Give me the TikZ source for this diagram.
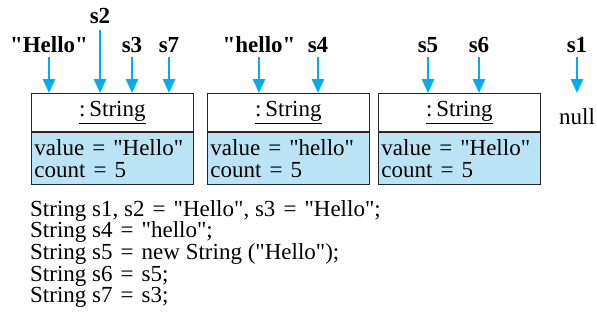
\documentclass[tikz,border=0pt]{standalone}
\usepackage{fontspec}
\setmainfont{Liberation Serif}[Ligatures=TeXOff]
\usepackage{xcolor}
\usetikzlibrary{arrows.meta, positioning}

\definecolor{refblue}{RGB}{0,174,239}
\definecolor{valblue}{RGB}{186,228,246}

\newcommand{\eqsign}{\hspace{0.35em}=\hspace{0.35em}}

\tikzset{
  objhead/.style={draw=black!85, thick, fill=white, minimum width=162pt, minimum height=38pt, inner sep=0pt, font=\fontsize{23}{22}\selectfont},
  objbody/.style={draw=black!85, thick, fill=valblue, minimum width=162pt, minimum height=52pt, inner sep=3pt, text width=156pt, align=left, font=\fontsize{23}{22}\selectfont},
  reflabel/.style={font=\bfseries\fontsize{23}{22}\selectfont, inner sep=1pt, text height=16pt, text depth=0pt},
  refarrow/.style={draw=refblue, line width=2.6pt, -{Triangle[width=12pt, length=14pt]}},
}

\begin{document}
\begin{tikzpicture}[x=1pt, y=-1pt]
    \useasboundingbox (0,0) rectangle (597,322);

    % String objects
    \node[objhead, anchor=north west] (head1) at (31,93) {\underline{:\,String}};
    \node[objbody, anchor=north] (body1) at (head1.south) {value\eqsign"Hello"\\count\eqsign5};
    \node[objhead, anchor=north west] (head2) at (207,93) {\underline{:\,String}};
    \node[objbody, anchor=north] (body2) at (head2.south) {value\eqsign"hello"\\count\eqsign5};
    \node[objhead, anchor=north west] (head3) at (378,93) {\underline{:\,String}};
    \node[objbody, anchor=north] (body3) at (head3.south) {value\eqsign"Hello"\\count\eqsign5};

    % references
    \node[reflabel] (lhello) at (49,44) {"Hello"};
    \node[reflabel] (s2) at (100,15) {s2};
    \node[reflabel] (s3) at (132,44) {s3};
    \node[reflabel] (s7) at (169,44) {s7};
    \node[reflabel] (lhello2) at (259,44) {"hello"};
    \node[reflabel] (s4) at (318,44) {s4};
    \node[reflabel] (s5) at (428,44) {s5};
    \node[reflabel] (s6) at (479,44) {s6};
    \node[reflabel] (s1) at (577,44) {s1};
    \node[font=\fontsize{23}{22}\selectfont] (null) at (577,117) {null};
    \coordinate (s1end) at (577,93);

    \foreach \lbl/\obj in {lhello/head1, s3/head1, s7/head1, lhello2/head2, s4/head2, s5/head3, s6/head3}
        \draw[refarrow] ([yshift=-4pt]\lbl.south) -- (\lbl.south |- \obj.north);
    \draw[refarrow] ([yshift=-6pt]s2.south) -- (s2.south |- head1.north);
    \draw[refarrow] ([yshift=-4pt]s1.south) -- (s1end);

    % code
    \node[anchor=north west, align=left, inner sep=0pt, font=\fontsize{23}{21.7}\selectfont] (code) at (30,200) {%
      String s1, s2\eqsign"Hello", s3\eqsign"Hello";\\
      String s4\eqsign"hello";\\
      String s5\eqsign new String ("Hello");\\
      String s6\eqsign s5;\\
      String s7\eqsign s3;};
\end{tikzpicture}
\end{document}
